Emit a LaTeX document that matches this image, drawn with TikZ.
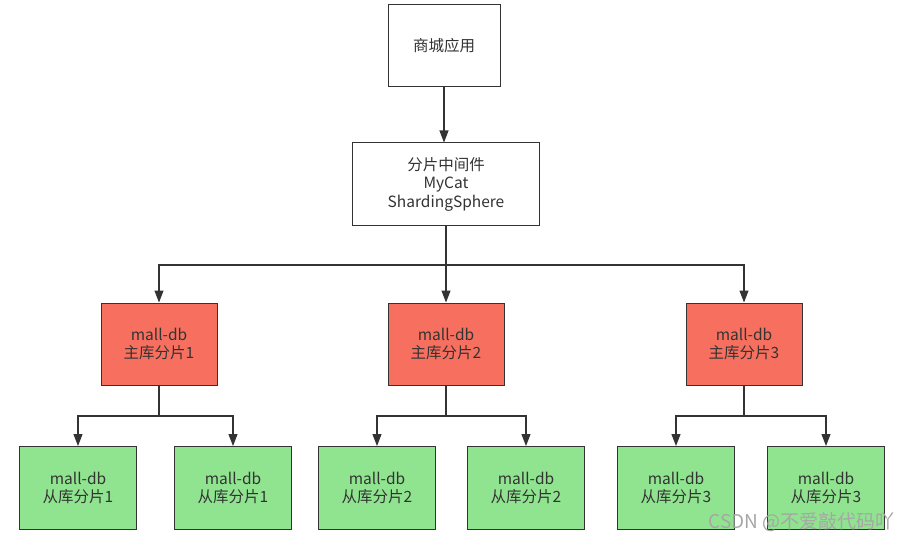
\documentclass[tikz,border=0pt]{standalone}
\usepackage{fontspec}
\setmainfont{Noto Sans CJK SC}
\usepackage{xcolor}
\usepackage{tikz}
\usetikzlibrary{arrows.meta}

\definecolor{linegray}{HTML}{333333}
\definecolor{masterred}{HTML}{F7705F}
\definecolor{slavegreen}{HTML}{90E490}

\tikzset{
  plainbox/.style={draw=linegray, line width=1pt, fill=white, align=center,
    text=linegray, font=\fontsize{15.5}{18.5}\selectfont, inner sep=0pt},
  master/.style={plainbox, fill=masterred, minimum width=116pt, minimum height=82pt},
  slave/.style={plainbox, fill=slavegreen, minimum width=117pt, minimum height=83pt},
  arr/.style={draw=linegray, line width=1.1pt, -{Triangle[length=12pt,width=9pt]}}
}

\begin{document}
\begin{tikzpicture}[x=1pt,y=-1pt]
\useasboundingbox (0,0) rectangle (912,540);

\node[plainbox, minimum width=112pt, minimum height=82pt] (app) at (444,46) {商城应用};
\node[plainbox, minimum width=187pt, minimum height=82pt] (mid) at (446,184)
  {分片中间件\\MyCat\\ShardingSphere};
\draw[arr] (app.south) -- (app.south |- mid.north);

\coordinate (split) at (446,265);
\foreach \i/\x/\a/\b in {1/159/78/233, 2/446/377/526, 3/744/676/826} {
  \node[master] (m\i) at (\x,344) {mall-db\\主库分片\i};
  \node[slave] (s\i-1) at (\a,488) {mall-db\\从库分片\i};
  \node[slave] (s\i-2) at (\b,488) {mall-db\\从库分片\i};
  \coordinate (fork\i) at (\x,416);
  \draw[arr] (split) -| (m\i.north);
  \draw[arr] (m\i.south) -- (fork\i) -| (s\i-1.north);
  \draw[arr] (fork\i) -| (s\i-2.north);
}
\draw[draw=linegray, line width=1.1pt] (mid.south) -- (split);

% watermark
\node[text=gray!70, font=\fontsize{19}{21}\selectfont, anchor=east] (mark) at (898,522)
  {CSDN @不爱敲代码吖};
\end{tikzpicture}
\end{document}
